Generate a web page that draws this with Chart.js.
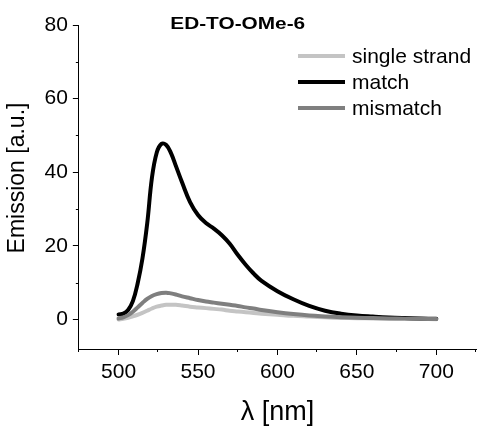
<!DOCTYPE html>
<html>
<head>
<meta charset="utf-8">
<script src="https://cdn.jsdelivr.net/npm/chart.js@4.4.1/dist/chart.umd.min.js"></script>
<style>
  html, body { margin: 0; padding: 0; background: #fff; }
</style>
</head>
<body>
<canvas id="graph" width="481" height="426"></canvas>
<script>
// emission spectra, wavelength in nm
const wavelength = [500, 503, 506, 509, 512, 515, 518, 521, 524, 527, 530, 533, 536, 540, 545,
                    550, 555, 560, 565, 570, 575, 580, 585, 590, 600, 610, 620, 630, 640, 650,
                    660, 670, 680, 690, 700];
const singleStrand = [0.0, 0.2, 0.5, 0.9, 1.3, 1.8, 2.4, 3.0, 3.5, 3.8, 4.0, 4.0, 4.0, 3.8, 3.5,
                      3.3, 3.1, 2.9, 2.7, 2.4, 2.2, 2.0, 1.8, 1.6, 1.3, 1.0, 0.8, 0.6, 0.45, 0.35,
                      0.3, 0.25, 0.2, 0.15, 0.1];
const match = [1.4, 1.6, 2.6, 5.0, 9.8, 16.5, 26, 38.5, 45.3, 47.7, 47.4, 45.2, 41.8, 37.2, 31.9,
               28.4, 26.2, 24.7, 22.9, 20.6, 17.6, 14.9, 12.5, 10.5, 7.7, 5.5, 3.7, 2.4, 1.6, 1.1,
               0.8, 0.55, 0.4, 0.3, 0.2];
const mismatch = [0.3, 0.6, 1.2, 2.1, 3.3, 4.5, 5.6, 6.4, 6.9, 7.2, 7.3, 7.1, 6.8, 6.3, 5.8,
                  5.3, 4.9, 4.6, 4.3, 4.0, 3.7, 3.3, 3.0, 2.6, 2.0, 1.5, 1.1, 0.85, 0.65, 0.5,
                  0.4, 0.3, 0.25, 0.2, 0.15];

const seriesNames = ['single strand', 'match', 'mismatch'];
const xTicks = [475, 500, 525, 550, 575, 600, 625, 650, 675, 700, 725];
const yTicks = [0, 10, 20, 30, 40, 50, 60, 70, 80];
const titleText = 'ED-TO-OMe-6';
const yTitle = 'Emission [a.u.]';
const xTitle = 'λ [nm]';

const FONT = "'Liberation Sans', Arial, sans-serif";
Chart.defaults.font.family = FONT;
Chart.defaults.color = '#000';

const isMajorX = v => v % 50 === 0;
const isMajorY = v => v % 20 === 0;

// short ticks between the labelled ones
const minorTicks = {
  id: 'minorTicks',
  afterDraw(chart) {
    const {ctx, scales: {x, y}} = chart;
    ctx.save();
    ctx.strokeStyle = '#000';
    ctx.lineWidth = 1;
    ctx.beginPath();
    xTicks.filter(v => !isMajorX(v)).forEach(v => {
      const px = Math.round(x.getPixelForValue(v)) - 0.5;
      ctx.moveTo(px, y.bottom);
      ctx.lineTo(px, y.bottom + 3);
    });
    yTicks.filter(v => !isMajorY(v)).forEach(v => {
      const py = Math.round(y.getPixelForValue(v)) + 0.5;
      ctx.moveTo(x.left, py);
      ctx.lineTo(x.left - 3, py);
    });
    ctx.stroke();
    ctx.restore();
  }
};

// bold heading (drawn wide) and the rotated y title
const labels = {
  id: 'labels',
  afterDraw(chart) {
    const {ctx, chartArea} = chart;
    ctx.save();
    ctx.fillStyle = '#000';
    ctx.font = 'bold 16px ' + FONT;
    ctx.textAlign = 'center';
    ctx.textBaseline = 'alphabetic';
    ctx.translate(chart.scales.x.getPixelForValue(575), chartArea.top + 3.5);
    ctx.scale(1.3, 1);
    ctx.fillText(titleText, 0, 0);
    ctx.restore();

    ctx.save();
    ctx.fillStyle = '#000';
    ctx.font = '23px ' + FONT;
    ctx.textAlign = 'center';
    ctx.textBaseline = 'middle';
    ctx.translate(18, (chartArea.top + chartArea.bottom) / 2 - 9);
    ctx.rotate(-Math.PI / 2);
    ctx.fillText(yTitle, 0, 0);
    ctx.restore();
  }
};

// line-sample legend in the upper right of the plot
const lineLegend = {
  id: 'lineLegend',
  afterDraw(chart) {
    const {ctx, chartArea} = chart;
    const x0 = chartArea.right - 178;
    ctx.save();
    ctx.font = '21px ' + FONT;
    ctx.textBaseline = 'middle';
    chart.data.datasets.forEach((ds, i) => {
      const yy = chartArea.top + 31 + i * 26;
      ctx.strokeStyle = ds.borderColor;
      ctx.lineWidth = 4;
      ctx.beginPath();
      ctx.moveTo(x0, yy);
      ctx.lineTo(x0 + 47, yy);
      ctx.stroke();
      ctx.fillStyle = '#000';
      ctx.fillText(ds.label, x0 + 54, yy + 1);
    });
    ctx.restore();
  }
};

function series(label, values, color, order) {
  return {
    label: label,
    data: wavelength.map((w, i) => ({x: w, y: values[i]})),
    borderColor: color,
    borderWidth: 4,
    pointRadius: 0,
    tension: 0.4,
    borderCapStyle: 'round',
    borderJoinStyle: 'round',
    fill: false,
    order: order
  };
}

const ctx = document.getElementById('graph').getContext('2d');
const myChart = new Chart(ctx, {
  type: 'line',
  data: {
    datasets: [
      series(seriesNames[0], singleStrand, '#c4c4c4', 2),
      series(seriesNames[1], match, '#000000', 1),
      series(seriesNames[2], mismatch, '#7f7f7f', 0)
    ]
  },
  options: {
    responsive: false,
    animation: false,
    layout: { padding: { top: 25, right: 0, bottom: 0, left: 39.5 } },
    plugins: {
      legend: { display: false },
      tooltip: { enabled: false }
    },
    scales: {
      x: {
        type: 'linear',
        min: 475,
        max: 725,
        afterBuildTicks: s => { s.ticks = xTicks.map(v => ({value: v})); },
        ticks: {
          callback: v => isMajorX(v) ? String(v) : '',
          font: { size: 21 },
          padding: 5,
          maxRotation: 0,
          autoSkip: false
        },
        grid: {
          drawOnChartArea: false,
          tickLength: 6,
          tickColor: c => (c.tick && isMajorX(c.tick.value)) ? '#000' : 'rgba(0,0,0,0)'
        },
        border: { display: true, color: '#000', width: 1 },
        title: {
          display: true,
          text: xTitle,
          font: { size: 27, lineHeight: 1.0 },
          padding: { top: 8.8, bottom: 0 }
        }
      },
      y: {
        min: -8,
        max: 80,
        afterBuildTicks: s => { s.ticks = yTicks.map(v => ({value: v})); },
        ticks: {
          callback: v => isMajorY(v) ? String(v) : '',
          font: { size: 21 },
          padding: 5
        },
        grid: {
          drawOnChartArea: false,
          tickLength: 6,
          tickColor: c => (c.tick && isMajorY(c.tick.value)) ? '#000' : 'rgba(0,0,0,0)'
        },
        border: { display: true, color: '#000', width: 1 },
        title: { display: false }
      }
    }
  },
  plugins: [minorTicks, labels, lineLegend]
});
</script>
</body>
</html>
